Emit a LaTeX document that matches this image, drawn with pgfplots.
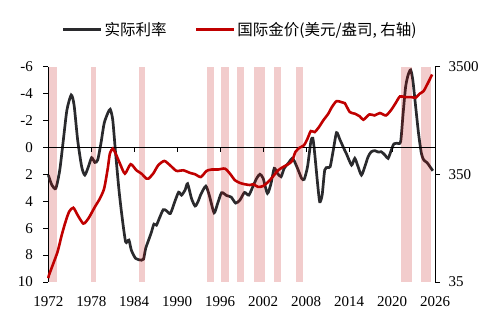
\documentclass[border=0pt]{standalone}
\usepackage{fontspec}
\setmainfont{Liberation Serif}
\newfontfamily\cjk{Noto Sans CJK SC}
\usepackage{pgfplots}
\pgfplotsset{compat=1.18}
\definecolor{rr}{HTML}{C00000}
\definecolor{kk}{HTML}{2A2A2D}
\newcommand{\band}[2]{\addplot[fill=rr, fill opacity=0.2, draw=none, forget plot] coordinates {(#1,-6) (#2,-6) (#2,10) (#1,10)} -- cycle;}

\pgfplotstableread{
year rate
1972.0 2.06
1972.5 2.8
1973.05 3.05
1973.6 1.69
1974.1 -0.54
1974.6 -2.77
1975.2 -3.89
1975.6 -3.14
1976.1 -0.54
1976.66 1.44
1977.1 2.06
1977.6 1.44
1978.05 0.77
1978.5 1.12
1978.9 0.94
1979.35 -0.3
1979.8 -1.78
1980.3 -2.53
1980.65 -2.82
1981.0 -2.03
1981.4 0.45
1981.87 3.17
1982.3 5.16
1982.8 7.02
1983.26 6.89
1983.6 7.64
1984.2 8.25
1985.0 8.38
1985.3 8.3
1985.6 7.5
1986.0 6.9
1986.4 6.3
1986.75 5.7
1987.1 5.78
1987.5 5.28
1988.05 4.63
1988.5 4.71
1989.05 4.91
1989.7 3.98
1990.2 3.33
1990.6 3.55
1991.1 3.17
1991.45 2.7
1992.0 3.8
1992.5 4.36
1992.9 4.04
1993.3 3.5
1994.0 2.88
1994.5 3.6
1995.15 4.86
1995.65 4.16
1996.2 3.37
1996.9 3.58
1997.55 3.7
1998.15 4.14
1998.75 3.92
1999.4 3.35
2000.0 3.55
2000.6 2.87
2001.1 2.3
2001.55 2.0
2002.0 2.3
2002.6 3.42
2003.1 2.68
2003.55 1.56
2004.0 1.93
2004.5 2.18
2004.94 1.56
2005.5 1.19
2006.05 0.82
2006.4 1.07
2006.9 1.69
2007.37 2.3
2007.73 2.38
2008.2 1.44
2008.66 -0.42
2008.94 -0.67
2009.2 0.45
2009.6 2.68
2009.9 4.04
2010.24 3.55
2010.6 1.69
2011.0 1.49
2011.36 1.44
2011.8 0.2
2012.25 -1.09
2012.7 -0.6
2013.2 0.0
2013.65 0.5
2014.35 1.32
2014.8 0.82
2015.26 1.44
2015.73 2.06
2016.2 1.44
2016.66 0.7
2017.1 0.33
2017.6 0.25
2018.06 0.35
2018.5 0.33
2019.0 0.57
2019.45 0.82
2019.9 0.2
2020.25 -0.25
2020.7 -0.3
2021.2 -0.42
2021.55 -2.53
2021.9 -4.5
2022.25 -5.38
2022.6 -5.75
2022.9 -5.0
2023.3 -3.02
2023.7 -1.04
2024.1 0.45
2024.43 0.94
2024.9 1.14
2025.3 1.44
2025.7 1.74
}\ratetable

\pgfplotstableread{
year gold
1972.0 38
1972.1 40.6
1972.7 52
1973.3 67
1973.87 95
1974.33 122
1974.9 157
1975.5 171
1976.1 146
1976.9 122
1977.6 136
1978.5 174
1979.2 208
1979.8 258
1980.3 395
1980.6 545
1981.0 605
1981.4 545
1982.0 440
1982.7 355
1983.5 434
1984.3 381
1985.0 355
1985.7 319
1986.0 319
1986.65 355
1987.35 424
1988.2 465
1989.0 424
1989.9 376
1990.84 381
1991.8 360
1992.5 350
1993.3 330
1994.1 376
1994.8 387
1995.7 387
1996.66 395
1997.36 355
1998.06 308
1998.75 291
1999.4 283
2000.15 278
2000.6 283
2001.3 267
2002.0 272
2002.7 297
2003.4 335
2004.1 381
2004.8 409
2005.5 434
2006.05 465
2006.5 563
2007.1 618
2007.7 650
2008.2 750
2008.66 881
2009.2 862
2009.8 960
2010.4 1107
2011.1 1277
2011.6 1470
2012.25 1670
2012.95 1633
2013.4 1600
2014.1 1322
2014.8 1277
2015.5 1205
2016.0 1122
2016.85 1258
2017.55 1230
2018.3 1294
2019.15 1230
2019.9 1390
2020.5 1600
2021.1 1845
2021.8 1820
2022.7 1820
2023.3 1795
2023.85 1955
2024.4 2067
2025.0 2450
2025.6 2950
}\goldtable

\begin{document}
\begin{tikzpicture}
\path[use as bounding box] (0,0) rectangle (501pt,325pt);
\begin{axis}[
  at={(48.3pt,43pt)}, anchor=south west,
  scale only axis, width=386.7pt, height=215.5pt,
  xmin=1972, xmax=2026, ymin=-6, ymax=10, y dir=reverse,
  axis y line*=left, axis x line*=bottom,
  x axis line style={draw=none},
  axis line style={line width=0.9pt},
  xtick={1972,1978,1984,1990,1996,2002,2008,2014,2020,2026},
  xticklabels={1972,1978,1984,1990,1996,2002,2008,2014,2020,2026},
  xtick style={draw=none},
  ytick={-6,-4,-2,0,2,4,6,8,10},
  yticklabels={-6,-4,-2,0,2,4,6,8,10},
  tick align=outside, major tick length=5pt,
  ytick style={line width=0.9pt, black},
  tick label style={font=\fontsize{15}{18}\selectfont},
  yticklabel style={xshift=-7pt},
  xticklabel style={yshift=-6pt},
  clip=false,
]
\addplot[kk, line width=2.7pt, smooth, tension=0.4] table[x=year, y=rate] {\ratetable};
\band{1972.1}{1973.2}
\band{1977.95}{1978.65}
\band{1984.65}{1985.5}
\band{1994.2}{1995.1}
\band{1996.1}{1997.2}
\band{1998.3}{1999.3}
\band{2000.7}{2002.2}
\band{2003.5}{2004.5}
\band{2006.6}{2007.6}
\band{2021.2}{2022.8}
\band{2024.0}{2025.5}
\addplot[black, line width=0.9pt, forget plot] coordinates {(1972,0) (2026,0)};
\pgfplotsinvokeforeach{1978,1984,1990,1996,2002,2008,2014,2020}{
  \draw[line width=0.9pt] (axis cs:#1,0) -- ++(0pt,-4.5pt);
}
\end{axis}
\begin{axis}[
  at={(48.3pt,43pt)}, anchor=south west,
  scale only axis, width=386.7pt, height=215.5pt,
  xmin=1972, xmax=2026, ymode=log, ymin=35, ymax=3500,
  axis y line*=right, axis x line=none,
  axis line style={line width=0.9pt},
  ytick={35,350,3500}, yticklabels={35,350,3500},
  yminorticks=false,
  tick align=outside, major tick length=5pt,
  ytick style={line width=0.9pt, black},
  tick label style={font=\fontsize{15}{18}\selectfont},
  yticklabel style={xshift=5pt},
  legend columns=2,
  legend image code/.code={\draw[#1] (0pt,0pt) -- (38pt,0pt);},
  legend style={at={(axis description cs:0.035,1.172)}, anchor=west, draw=none, fill=none,
    font=\cjk\fontsize{15.5}{18}\selectfont, inner sep=0pt,
    /tikz/every even column/.append style={column sep=26pt}},
  legend cell align=left,
  clip=false,
]
\addlegendimage{kk, line width=2.7pt}
\addlegendentry{实际利率}
\addplot[rr, line width=2.6pt, smooth, tension=0.4] table[x=year, y=gold] {\goldtable};
\addlegendentry{国际金价(美元/盎司, 右轴)}
\end{axis}
\end{tikzpicture}
\end{document}
